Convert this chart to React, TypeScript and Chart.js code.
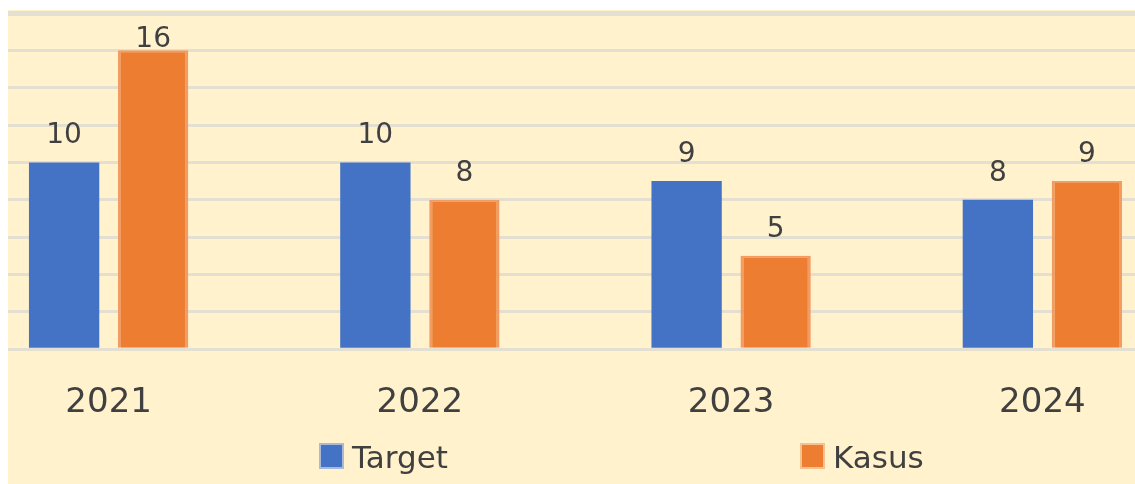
import React, { useEffect, useRef } from "react";
import { Chart, registerables } from "chart.js";

Chart.register(...registerables);

const categories = ["2021", "2022", "2023", "2024"];
const targetValues = [10, 10, 9, 8];
const kasusValues = [16, 8, 5, 9];
const seriesNames = ["Target", "Kasus"];
const yTicks = { min: 0, max: 18, step: 2 };

const BLUE = "#4472C4";
const ORANGE = "#ED7D31";
const TEXT = "#404040";
const BG = "#FFF2CC";
const FONT = "'DejaVu Sans', sans-serif";

const valueLabelPlugin = {
  id: "valueLabels",
  afterDatasetsDraw(chart: any) {
    const { ctx, chartArea } = chart;
    ctx.save();
    ctx.font = `28px ${FONT}`;
    ctx.fillStyle = TEXT;
    ctx.textAlign = "center";
    ctx.textBaseline = "alphabetic";
    chart.data.datasets.forEach((ds: any, di: number) => {
      const meta = chart.getDatasetMeta(di);
      meta.data.forEach((bar: any, i: number) => {
        const y = Math.max(bar.y - 19, chartArea.top + 34);
        ctx.fillText(String(ds.data[i]), bar.x, y);
      });
    });
    ctx.restore();
  },
};

const customLegendPlugin = {
  id: "customLegend",
  afterDraw(chart: any) {
    const { ctx } = chart;
    const items = [
      { x: 366, color: BLUE, border: "#A9B9D6" },
      { x: 847, color: ORANGE, border: "#F6C08F" },
    ];
    ctx.save();
    ctx.font = `31px ${FONT}`;
    ctx.textAlign = "left";
    ctx.textBaseline = "alphabetic";
    items.forEach((it, i) => {
      ctx.fillStyle = it.border;
      ctx.fillRect(it.x, 433, 25, 26);
      ctx.fillStyle = chart.data.datasets[i].backgroundColor;
      ctx.fillRect(it.x + 2, 435, 21, 22);
      ctx.fillStyle = TEXT;
      ctx.fillText(chart.data.datasets[i].label, it.x + 33, 458);
    });
    ctx.restore();
  },
};

export default function App() {
  const canvasRef = useRef<HTMLCanvasElement | null>(null);

  useEffect(() => {
    if (!canvasRef.current) return;
    const chart = new Chart(canvasRef.current, {
      type: "bar",
      data: {
        labels: categories,
        datasets: [
          {
            label: seriesNames[0],
            data: targetValues,
            backgroundColor: BLUE,
            borderWidth: 0,
          },
          {
            label: seriesNames[1],
            data: kasusValues,
            backgroundColor: ORANGE,
            borderColor: "#F29B62",
            borderWidth: { left: 3, right: 3, top: 2, bottom: 0 },
          },
        ],
      },
      options: {
        responsive: false,
        animation: false,
        devicePixelRatio: 1,
        layout: { padding: { top: 3, bottom: 26, left: 0, right: 0 } },
        datasets: {
          bar: { categoryPercentage: 0.572, barPercentage: 0.79 },
        },
        plugins: {
          legend: { display: false },
          tooltip: { enabled: false },
        },
        scales: {
          x: {
            grid: { display: false, drawTicks: false },
            border: { display: false },
            ticks: {
              color: TEXT,
              padding: 34,
              font: { family: FONT, size: 34 },
            },
          },
          y: {
            min: yTicks.min,
            max: yTicks.max,
            grid: {
              color: "#E3DFD1",
              lineWidth: (c: any) => (c.tick && c.tick.value === yTicks.max ? 5 : 3),
              drawTicks: false,
            },
            border: { display: false },
            ticks: { display: false, stepSize: yTicks.step },
          },
        },
      },
      plugins: [valueLabelPlugin, customLegendPlugin],
    });
    return () => chart.destroy();
  }, []);

  return (
    <div
      style={{
        position: "fixed",
        left: 8,
        top: 10,
        width: 1127,
        height: 474,
        overflow: "hidden",
        background: BG,
      }}
    >
      <canvas
        ref={canvasRef}
        width={1245}
        height={474}
        style={{ position: "absolute", left: -55, top: 0, width: 1245, height: 474 }}
      />
    </div>
  );
}
